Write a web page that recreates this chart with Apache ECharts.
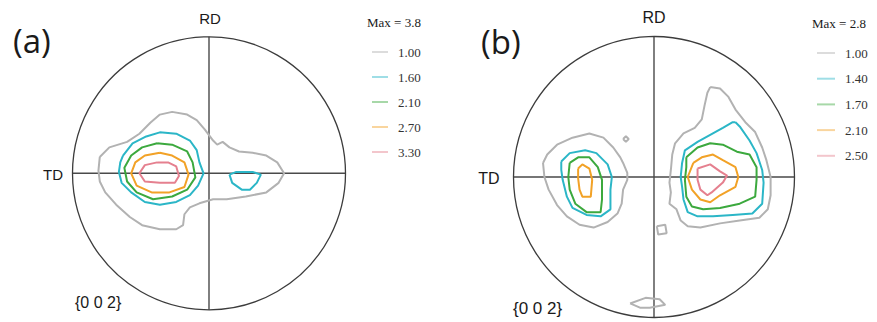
<!DOCTYPE html>
<html>
<head>
<meta charset="utf-8">
<style>
  html, body { margin: 0; padding: 0; background: #fff; }
  #chart { width: 877px; height: 322px; }
</style>
<script src="https://cdn.jsdelivr.net/npm/echarts@6/dist/echarts.min.js"></script>
</head>
<body>
<div id="chart"></div>
<script>
// contour levels shown in each legend
const levelsA = ['1.00', '1.60', '2.10', '2.70', '3.30'];
const levelsB = ['1.00', '1.40', '1.70', '2.10', '2.50'];
const maxA = 'Max = 3.8';
const maxB = 'Max = 2.8';

// contour polygons, [x, y] with the pole figure radius = 100 (x to the right, y up)
// (a)
const a_1_main = [[-80,12],[-73,19],[-60,23],[-51,29],[-43,37],[-36,43],[-27,45],[-16,43],[-9,39],[-3,32],[3,24],[6,21],[10,23],[15,19],[22,16],[32,15],[42,13],[50,8],[55,0],[51,-7],[42,-14],[27,-17],[13,-19],[3,-19],[-7,-22],[-14,-25],[-18,-30],[-19,-38],[-24,-41],[-36,-41],[-49,-38],[-58,-32],[-68,-23],[-76,-14],[-80,-6],[-81,2]];
const a_2_main = [[-63,13],[-56,22],[-46,27],[-36,30],[-24,29],[-14,24],[-9,17],[-7,8],[-4,0],[-8,-9],[-14,-16],[-24,-21],[-36,-23],[-47,-21],[-57,-14],[-64,-7],[-66,1],[-65,8]];
const a_2_right = [[15,-1],[20,1],[32,1],[38,-1],[35,-7],[30,-12],[24,-12],[17,-7]];
const a_3_main = [[-38,22],[-49,19],[-57,13],[-62,4],[-60,-6],[-53,-14],[-41,-19],[-27,-17],[-16,-12],[-10,-3],[-12,8],[-16,16],[-27,21]];
const a_4_main = [[-36,15],[-47,13],[-54,8],[-57,0],[-53,-9],[-42,-14],[-29,-14],[-18,-10],[-15,-1],[-18,8],[-27,13]];
const a_5_main = [[-38,8],[-47,6],[-51,0],[-47,-6],[-36,-7],[-25,-7],[-22,-2],[-24,5],[-30,8]];

// (b)
const b_1_left = [[-79,10],[-76,16],[-69,23],[-58,28],[-46,31],[-36,28],[-29,21],[-24,14],[-22,10],[-19,3],[-19,-2],[-22,-9],[-23,-19],[-26,-26],[-33,-32],[-43,-36],[-53,-34],[-62,-28],[-69,-20],[-75,-9],[-78,0]];
const b_1_right = [[40,64],[47,63],[53,57],[58,48],[65,39],[72,32],[77,21],[80,12],[83,0],[83,-13],[81,-23],[75,-29],[61,-31],[47,-33],[33,-36],[24,-35],[19,-31],[16,-23],[11,-19],[12,-11],[11,-4],[12,5],[13,16],[15,24],[21,31],[29,35],[34,41],[36,51],[38,60]];
const b_1_dot = [[-22,27],[-20,29],[-18,27],[-20,25]];
const b_1_box = [[2,-35],[8,-34],[9,-40],[3,-41]];
const b_1_rim = [[-17,-90],[-6,-86],[4,-87],[8,-91],[-3,-93],[-10,-93]];
const b_2_left = [[-66,11],[-60,17],[-49,19],[-41,17],[-33,9],[-30,0],[-31,-9],[-31,-23],[-38,-28],[-48,-27],[-58,-22],[-62,-14],[-65,-2],[-66,5]];
const b_2_right = [[58,39],[61,36],[68,26],[73,17],[77,5],[78,-4],[77,-19],[70,-26],[56,-27],[42,-28],[31,-28],[24,-25],[21,-16],[20,-7],[19,0],[20,10],[22,19],[31,25],[40,30],[49,35],[56,39]];
const b_3_left = [[-60,10],[-54,14],[-46,14],[-40,7],[-37,-2],[-37,-16],[-38,-25],[-48,-25],[-56,-19],[-60,-9],[-61,0]];
const b_3_right = [[23,14],[31,21],[40,24],[49,23],[59,18],[68,16],[73,7],[73,-2],[72,-14],[61,-19],[47,-22],[35,-23],[27,-21],[23,-14],[22,-2],[23,7]];
const b_4_left = [[-54,6],[-51,9],[-46,6],[-44,-2],[-45,-14],[-51,-14],[-53,-9],[-54,-1]];
const b_4_right = [[28,10],[34,14],[42,16],[49,12],[58,7],[60,0],[58,-7],[47,-13],[40,-18],[33,-16],[27,-9],[24,0]];
const b_5_right = [[31,6],[40,9],[47,4],[52,1],[49,-4],[41,-11],[38,-13],[33,-9],[31,-2]];

const contoursA = [
  [0, a_1_main], [1, a_2_main], [1, a_2_right], [2, a_3_main], [3, a_4_main], [4, a_5_main]
];
const contoursB = [
  [0, b_1_left], [0, b_1_right], [0, b_1_dot], [0, b_1_box], [0, b_1_rim],
  [1, b_2_left], [1, b_2_right], [2, b_3_left], [2, b_3_right],
  [3, b_4_left], [3, b_4_right], [4, b_5_right]
];

const colors = ['#b2b2b2', '#2bb6c7', '#3ca93e', '#f2a227', '#e5808f'];

// [x, y] -> [radius, angle in degrees] for the polar system
function toPolar(p) {
  let ang = Math.atan2(p[1], p[0]) * 180 / Math.PI;
  if (ang < 0) ang += 360;
  return [Math.hypot(p[0], p[1]), ang];
}

function contourSeries(list, levels, tag, polarIndex) {
  return list.map(([lvl, pts]) => ({
    type: 'line',
    name: tag + levels[lvl],
    coordinateSystem: 'polar',
    polarIndex,
    data: pts.concat([pts[0]]).map(toPolar),
    showSymbol: false,
    symbol: 'none',
    silent: true,
    color: colors[lvl],
    itemStyle: { color: colors[lvl] },
    lineStyle: { color: colors[lvl], width: 2 },
    z: 3
  }));
}

function angleAxis(polarIndex) {
  return {
    polarIndex, type: 'value', min: 0, max: 360, interval: 90,
    startAngle: 0, clockwise: false,
    axisLine: { lineStyle: { color: '#3c3c3c', width: 1.3 } },
    axisTick: { show: false },
    axisLabel: { show: false },
    splitLine: { show: true, lineStyle: { color: '#4a4a4a', width: 1.4 } }
  };
}

function legend(levels, tag, left, top, gap, iconW) {
  return {
    data: levels.map(l => tag + l),
    orient: 'vertical', left, top,
    icon: 'rect', itemWidth: iconW, itemHeight: 2, itemGap: gap,
    selectedMode: false,
    formatter: n => n.slice(tag.length),
    itemStyle: { opacity: 0.45 },
    textStyle: { fontFamily: 'Liberation Serif', fontSize: 13, color: '#333', lineHeight: 14, padding: [0, 0, 0, 5] }
  };
}

function label(text, x, y, size, family, align) {
  return {
    type: 'text', x, y, silent: true,
    style: {
      text, fill: '#1a1a1a',
      font: size + 'px "' + family + '"',
      align: align || 'center', textAlign: align || 'center',
      verticalAlign: 'middle', textVerticalAlign: 'middle'
    }
  };
}

const chart = echarts.init(document.getElementById('chart'), null, { renderer: 'svg' });
chart.setOption({
  animation: false,
  backgroundColor: '#fff',
  polar: [
    { center: [209, 173.3], radius: 136.5 },
    { center: [654, 177], radius: 140.5 }
  ],
  angleAxis: [angleAxis(0), angleAxis(1)],
  radiusAxis: [
    { polarIndex: 0, type: 'value', min: 0, max: 100, show: false },
    { polarIndex: 1, type: 'value', min: 0, max: 100, show: false }
  ],
  legend: [
    legend(levelsA, 'a:', 367, 40, 11, 16),
    legend(levelsB, 'b:', 812, 41, 11.7, 18)
  ],
  graphic: [
    label('(a)', 13, 40, 33, 'Open Sans', 'left'),
    label('(b)', 481, 41, 33, 'Open Sans', 'left'),
    label('RD', 210, 18, 15, 'Liberation Sans'),
    label('RD', 654, 17, 16, 'Liberation Sans'),
    label('TD', 53, 174, 15, 'Liberation Sans'),
    label('TD', 489, 178, 16, 'Liberation Sans'),
    label('{0 0 2}', 75, 302, 16, 'Liberation Sans', 'left'),
    label('{0 0 2}', 513, 308, 17, 'Liberation Sans', 'left'),
    label(maxA, 367, 22, 13, 'Liberation Serif', 'left'),
    label(maxB, 812, 23, 13, 'Liberation Serif', 'left')
  ],
  series: contourSeries(contoursA, levelsA, 'a:', 0).concat(contourSeries(contoursB, levelsB, 'b:', 1))
});
</script>
</body>
</html>
